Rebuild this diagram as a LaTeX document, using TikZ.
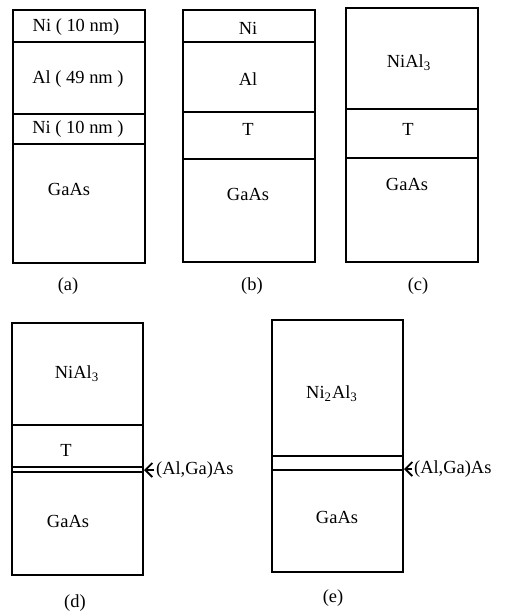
\documentclass[tikz,border=0pt]{standalone}
\usepackage{fontspec}
\setmainfont{Liberation Serif}
\usetikzlibrary{arrows.meta}
\tikzset{layer/.style={line width=1.2pt},
  lbl/.style={font=\fontsize{10.5}{12}\selectfont,inner sep=1pt},
  mark arrow/.style={-{Straight Barb[length=4pt,width=8pt]},line width=1.1pt}}

\begin{document}
\begin{tikzpicture}[x=0.02cm,y=-0.02cm]
\useasboundingbox (0,0) rectangle (507,613);
% (a) as deposited
\draw[layer] (13,10) rectangle (145,263);
\foreach \y in {42,114,144}
  \draw[layer] (13,\y) -- (145,\y);
\node[lbl] (aNitop) at (76,27) {Ni ( 10 nm)};
\node[lbl] (aAl) at (78,79) {Al ( 49 nm )};
\node[lbl] (aNibot) at (78,129) {Ni ( 10 nm )};
\node[lbl] (aGaAs) at (69,189) {GaAs};
\node[lbl] (acap) at (68,286) {(a)};
% (b)
\draw[layer] (183,10) rectangle (315,262);
\foreach \y in {42,112,159}
  \draw[layer] (183,\y) -- (315,\y);
\node[lbl] (bNi) at (248,28) {Ni};
\node[lbl] (bAl) at (248,79) {Al};
\node[lbl] (bT) at (248,129) {T};
\node[lbl] (bGaAs) at (248,194) {GaAs};
\node[lbl] (bcap) at (252,286) {(b)};
% (c)
\draw[layer] (346,8) rectangle (478,262);
\foreach \y in {109,158}
  \draw[layer] (346,\y) -- (478,\y);
\node[lbl] (cNiAl) at (409,63) {NiAl\textsubscript{3}};
\node[lbl] (cT) at (408,129) {T};
\node[lbl] (cGaAs) at (407,184) {GaAs};
\node[lbl] (ccap) at (418,286) {(c)};
% (d)
\draw[layer] (12,323) rectangle (143,575);
\foreach \y in {425,467,472}
  \draw[layer] (12,\y) -- (143,\y);
\node[lbl] (dNiAl) at (77,374) {NiAl\textsubscript{3}};
\node[lbl] (dT) at (66,450) {T};
\node[lbl] (dGaAs) at (68,521) {GaAs};
\node[lbl,anchor=west] (dAlGa) at (154,470) {(Al,Ga)As};
\coordinate (dtip) at (144,470);
\draw[mark arrow] (dAlGa.west) -- (dtip);
\node[lbl] (dcap) at (75,603) {(d)};
% (e)
\draw[layer] (272,320) rectangle (403,572);
\foreach \y in {456,470}
  \draw[layer] (272,\y) -- (403,\y);
\node[lbl] (eNiAl) at (332,394) {Ni\textsubscript{2}Al\textsubscript{3}};
\node[lbl] (eGaAs) at (337,517) {GaAs};
\node[lbl,anchor=west] (eAlGa) at (412,469) {(Al,Ga)As};
\coordinate (etip) at (404,469);
\draw[mark arrow] (eAlGa.west) -- (etip);
\node[lbl] (ecap) at (333,598) {(e)};
\end{tikzpicture}
\end{document}
